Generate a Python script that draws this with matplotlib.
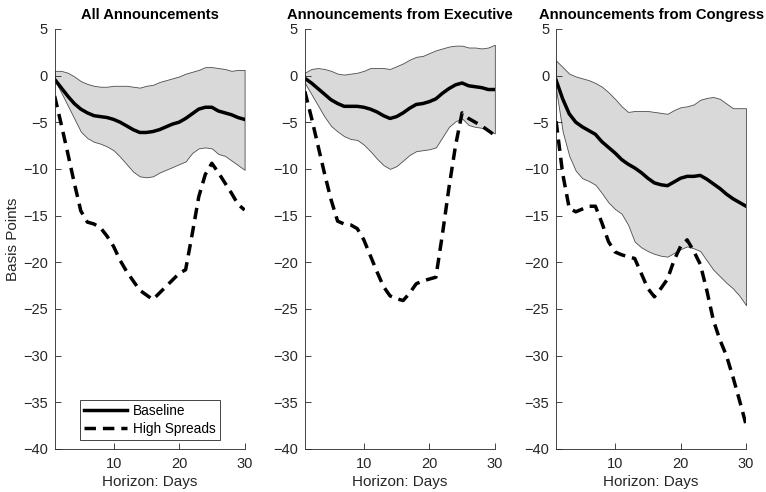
import matplotlib
matplotlib.use('Agg')
import matplotlib.pyplot as plt
import numpy as np

plt.rcParams['font.family'] = ['Liberation Sans', 'DejaVu Sans']

days = np.arange(1, 31)

titles = ['All Announcements', 'Announcements from Executive', 'Announcements from Congress']

# All announcements
base_all = [-0.4, -1.3, -2.2, -3.0, -3.6, -4.0, -4.3, -4.4, -4.5, -4.7,
            -5.0, -5.4, -5.8, -6.1, -6.1, -6.0, -5.8, -5.5, -5.2, -5.0,
            -4.6, -4.1, -3.6, -3.4, -3.4, -3.8, -4.0, -4.2, -4.5, -4.7]
upper_all = [0.5, 0.5, 0.3, -0.1, -0.6, -0.9, -1.1, -1.2, -1.2, -1.1,
             -1.1, -1.1, -1.2, -1.3, -1.1, -1.0, -0.7, -0.5, -0.3, -0.1,
             0.2, 0.4, 0.6, 0.9, 0.9, 0.8, 0.7, 0.5, 0.6, 0.6]
lower_all = [-0.5, -1.8, -3.2, -4.6, -6.0, -6.7, -7.1, -7.3, -7.6, -8.0,
             -8.7, -9.5, -10.3, -10.8, -10.9, -10.8, -10.4, -10.1, -9.8, -9.5,
             -9.2, -8.3, -7.8, -7.7, -7.8, -8.4, -8.6, -9.1, -9.6, -10.1]
high_all = [-2.2, -5.2, -8.3, -11.5, -14.5, -15.7, -15.9, -16.3, -17.2, -18.3,
            -19.8, -21.0, -22.0, -23.0, -23.5, -24.0, -23.3, -22.6, -21.9, -21.2,
            -20.8, -17.0, -13.0, -10.6, -9.4, -10.4, -11.5, -12.6, -13.8, -14.4]

# Executive
base_exe = [-0.3, -0.8, -1.4, -2.0, -2.6, -3.0, -3.3, -3.3, -3.3, -3.4,
            -3.6, -3.9, -4.3, -4.6, -4.4, -4.0, -3.5, -3.1, -3.0, -2.8,
            -2.5, -1.9, -1.4, -1.0, -0.8, -1.1, -1.2, -1.3, -1.5, -1.5]
upper_exe = [0.3, 0.7, 0.8, 0.7, 0.5, 0.2, 0.1, 0.2, 0.3, 0.5,
             0.8, 0.8, 0.8, 0.7, 1.0, 1.3, 1.7, 2.0, 2.1, 2.4,
             2.7, 2.9, 3.1, 3.2, 3.2, 3.0, 3.0, 2.9, 3.0, 3.3]
lower_exe = [-0.8, -2.0, -3.2, -4.4, -5.4, -6.0, -6.5, -6.8, -6.9, -7.4,
             -8.1, -8.9, -9.6, -10.0, -9.7, -9.1, -8.5, -8.1, -8.0, -7.9,
             -7.7, -6.6, -5.5, -4.9, -4.6, -5.3, -5.5, -5.6, -5.9, -6.2]
high_exe = [-1.7, -4.5, -7.5, -10.5, -13.3, -15.6, -15.9, -16.0, -16.4, -17.6,
            -19.3, -21.0, -22.6, -23.6, -23.9, -24.1, -23.3, -22.3, -22.0, -21.8,
            -21.6, -17.0, -12.0, -7.5, -4.0, -4.6, -5.0, -5.4, -5.9, -6.4]

# Congress
base_con = [-0.5, -2.5, -4.1, -5.0, -5.5, -5.9, -6.3, -7.1, -7.7, -8.3,
            -9.0, -9.5, -9.9, -10.4, -11.0, -11.5, -11.7, -11.8, -11.4, -11.0,
            -10.8, -10.8, -10.7, -11.1, -11.6, -12.1, -12.7, -13.2, -13.6, -14.0]
upper_con = [1.6, 0.9, 0.2, -0.1, -0.3, -0.5, -0.8, -1.2, -1.8, -2.5,
             -3.3, -3.9, -3.8, -3.8, -3.8, -3.9, -4.0, -4.1, -3.7, -3.4,
             -3.3, -3.1, -2.6, -2.4, -2.3, -2.5, -3.0, -3.5, -3.5, -3.5]
lower_con = [-1.5, -6.0, -8.6, -10.2, -11.0, -11.3, -11.7, -12.6, -13.6, -14.3,
             -14.8, -16.0, -17.8, -18.4, -18.8, -19.1, -19.3, -19.4, -19.0, -18.6,
             -18.3, -18.5, -18.8, -19.8, -20.8, -21.5, -22.2, -22.8, -23.6, -24.6]
high_con = [-4.9, -10.5, -14.2, -14.6, -14.3, -14.0, -14.0, -15.8, -17.8, -18.9,
            -19.2, -19.4, -19.6, -21.2, -22.8, -23.7, -22.8, -21.8, -19.8, -18.3,
            -17.6, -18.8, -20.2, -23.0, -26.2, -28.3, -30.0, -32.3, -34.8, -37.4]

panels = [(base_all, upper_all, lower_all, high_all),
          (base_exe, upper_exe, lower_exe, high_exe),
          (base_con, upper_con, lower_con, high_con)]

fig = plt.figure(figsize=(7.66, 4.92), dpi=100)
lefts = [0.0713, 0.398, 0.726]
axc = '0.15'

for i, (base, up, lo, high) in enumerate(panels):
    ax = fig.add_axes([lefts[i], 0.0874, 0.248, 0.854])
    ax.fill_between(days, lo, up, facecolor='0.85', edgecolor='0.3', linewidth=0.6)
    ax.plot(days, base, color='k', linewidth=2.5, label='Baseline')
    ax.plot(days, high, color='k', linewidth=2.5, linestyle=(0, (3.3, 2.0)), label='High Spreads')
    ax.set_xlim(1, 30)
    ax.set_ylim(-40, 5)
    ax.set_xticks([10, 20, 30])
    ax.set_yticks(np.arange(-40, 6, 5))
    for s in ['top', 'right']:
        ax.spines[s].set_visible(False)
    for s in ['left', 'bottom']:
        ax.spines[s].set_color(axc)
        ax.spines[s].set_linewidth(0.6)
    ax.tick_params(direction='in', length=4, width=0.6, colors=axc, labelsize=10.5)
    ax.tick_params(axis='x', pad=6)
    ax.tick_params(axis='y', pad=5)
    ax.set_title(titles[i], fontsize=10.6, fontweight='bold', pad=7)
    ax.set_xlabel('Horizon: Days', fontsize=11, color=axc, labelpad=3)
    if i == 0:
        ax.set_ylabel('Basis Points', fontsize=11, color=axc, labelpad=2)
        leg = ax.legend(loc='lower center', bbox_to_anchor=(0.5, 0.005), fontsize=9.8,
                        handlelength=3.2, fancybox=False, framealpha=1,
                        borderpad=0.3, labelspacing=0.3, handletextpad=0.4)
        leg.get_frame().set_edgecolor(axc)
        leg.get_frame().set_linewidth(0.6)

fig.savefig('out.png', dpi=100)
